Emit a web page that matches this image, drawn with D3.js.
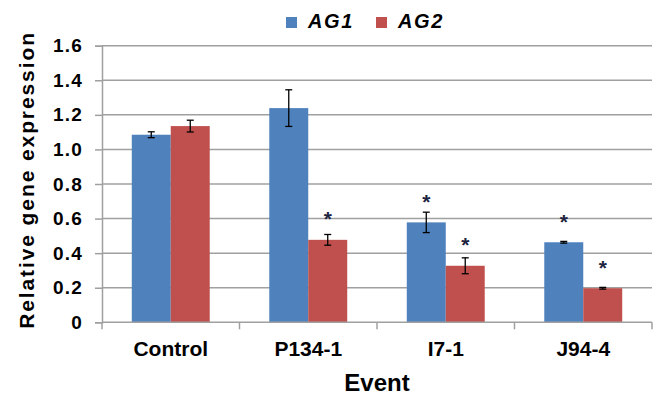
<!DOCTYPE html>
<html>
<head>
<meta charset="utf-8">
<title>Relative gene expression</title>
<script src="https://cdn.jsdelivr.net/npm/d3@7"></script>
<style>
    body {
        margin: 0;
        background: #fff;
    }
    text {
        font-family: "Liberation Sans", Arial, sans-serif;
        font-weight: bold;
        fill: #000;
    }
</style>
</head>
<body>
<script>

// data
var events = ["Control", "P134-1", "I7-1", "J94-4"];
var series = ["AG1", "AG2"];
var ag1 = [1.085, 1.239, 0.578, 0.463];
var ag2 = [1.135, 0.477, 0.327, 0.197];
var ag1Err = [0.017, 0.106, 0.059, 0.005];
var ag2Err = [0.034, 0.031, 0.046, 0.005];
// height of the significance star, null = no star
var ag1Star = [null, null, 0.725, 0.61];
var ag2Star = [null, 0.625, 0.475, 0.345];
var yTicks = [0, 0.2, 0.4, 0.6, 0.8, 1.0, 1.2, 1.4, 1.6];
var colors = ["#4f81bd", "#c0504d"];

var width = 657, height = 395;
// plot area (window.top is reserved, so other names)
var plotLeft = 102, plotRight = 652, plotTop = 45.7, plotBottom = 322.3;

var svg = d3.select("body").append("svg")
    .attr("width", width)
    .attr("height", height);

var x0 = d3.scaleBand().domain(events).range([plotLeft, plotRight]).padding(0);
var x1 = d3.scaleBand().domain(series).range([0, x0.bandwidth()])
    .paddingInner(0).paddingOuter(0.764);
var y = d3.scaleLinear().domain([0, 1.6]).range([plotBottom, plotTop]);

// gridlines
svg.append("g")
  .selectAll("line")
  .data(yTicks.slice(1))
  .enter().append("line")
    .attr("x1", plotLeft).attr("x2", plotRight)
    .attr("y1", d => y(d)).attr("y2", d => y(d))
    .attr("stroke", "#a0a0a0")
    .attr("stroke-width", 1.5);

// y axis
var yAxis = svg.append("g")
    .attr("transform", "translate(" + plotLeft + ",0)")
    .call(d3.axisLeft(y).tickValues(yTicks).tickSize(7).tickPadding(12)
        .tickFormat(d => d === 0 ? "0" : d3.format(".1f")(d)));
yAxis.select(".domain").attr("stroke", "#a0a0a0").attr("stroke-width", 1.5);
yAxis.selectAll(".tick line").attr("stroke", "#a0a0a0").attr("stroke-width", 1.5);
yAxis.selectAll(".tick text")
    .attr("font-size", 19)
    .attr("letter-spacing", 1.2)
    .attr("font-family", "Liberation Sans, Arial, sans-serif")
    .attr("font-weight", "bold")
    .attr("fill", "#000");

// bars
var rows = events.map(function(e, i) {
    return [
        {ev: e, s: "AG1", v: ag1[i], err: ag1Err[i], star: ag1Star[i], c: colors[0]},
        {ev: e, s: "AG2", v: ag2[i], err: ag2Err[i], star: ag2Star[i], c: colors[1]}
    ];
});
var flat = rows.flat();

svg.append("g")
  .selectAll("rect")
  .data(flat)
  .enter().append("rect")
    .attr("x", d => x0(d.ev) + x1(d.s))
    .attr("y", d => y(d.v))
    .attr("width", x1.bandwidth())
    .attr("height", d => y(0) - y(d.v))
    .attr("fill", d => d.c);

// x axis
var xAxisG = svg.append("g");
xAxisG.append("line")
    .attr("x1", plotLeft).attr("x2", plotRight)
    .attr("y1", y(0)).attr("y2", y(0))
    .attr("stroke", "#a0a0a0").attr("stroke-width", 1.5);
var bounds = events.map(e => x0(e)).concat([plotRight]);
xAxisG.selectAll(".xt")
  .data(bounds)
  .enter().append("line")
    .attr("class", "xt")
    .attr("x1", d => d).attr("x2", d => d)
    .attr("y1", y(0)).attr("y2", y(0) + 7)
    .attr("stroke", "#a0a0a0").attr("stroke-width", 1.5);
xAxisG.selectAll(".xl")
  .data(events)
  .enter().append("text")
    .attr("class", "xl")
    .attr("x", d => x0(d) + x0.bandwidth() / 2)
    .attr("y", 356)
    .attr("text-anchor", "middle")
    .attr("font-size", 21)
    .text(d => d);

// error bars
var eb = svg.append("g").attr("stroke", "#000").attr("stroke-width", 1.3);
flat.forEach(function(d) {
    var cx = x0(d.ev) + x1(d.s) + x1.bandwidth() / 2;
    eb.append("line").attr("x1", cx).attr("x2", cx)
        .attr("y1", y(d.v + d.err)).attr("y2", y(d.v - d.err));
    [d.v + d.err, d.v - d.err].forEach(function(v) {
        eb.append("line").attr("x1", cx - 3.5).attr("x2", cx + 3.5)
            .attr("y1", y(v)).attr("y2", y(v));
    });
});

// significance stars
svg.append("g")
  .selectAll("text")
  .data(flat.filter(d => d.star != null))
  .enter().append("text")
    .attr("x", d => x0(d.ev) + x1(d.s) + x1.bandwidth() / 2)
    .attr("y", d => y(d.star) + 12)
    .attr("text-anchor", "middle")
    .attr("font-size", 21)
    .attr("font-weight", "normal")
    .style("fill", "#1c2440")
    .text("*");

// axis titles
svg.append("text")
    .attr("x", (plotLeft + plotRight) / 2)
    .attr("y", 391)
    .attr("text-anchor", "middle")
    .attr("font-size", 24)
    .text("Event");

svg.append("text")
    .attr("transform", "translate(34,180) rotate(-90)")
    .attr("text-anchor", "middle")
    .attr("font-size", 21)
    .attr("letter-spacing", 1.9)
    .text("Relative gene expression");

// legend
var legendX = [286, 376];
var lg = svg.append("g");
series.forEach(function(s, i) {
    lg.append("rect")
        .attr("x", legendX[i]).attr("y", 17)
        .attr("width", 11).attr("height", 11)
        .attr("fill", colors[i]);
    lg.append("text")
        .attr("x", legendX[i] + 22)
        .attr("y", 28)
        .attr("font-size", 20)
        .attr("font-style", "italic")
        .attr("letter-spacing", 1.6)
        .text(s);
});

</script>
</body>
</html>
